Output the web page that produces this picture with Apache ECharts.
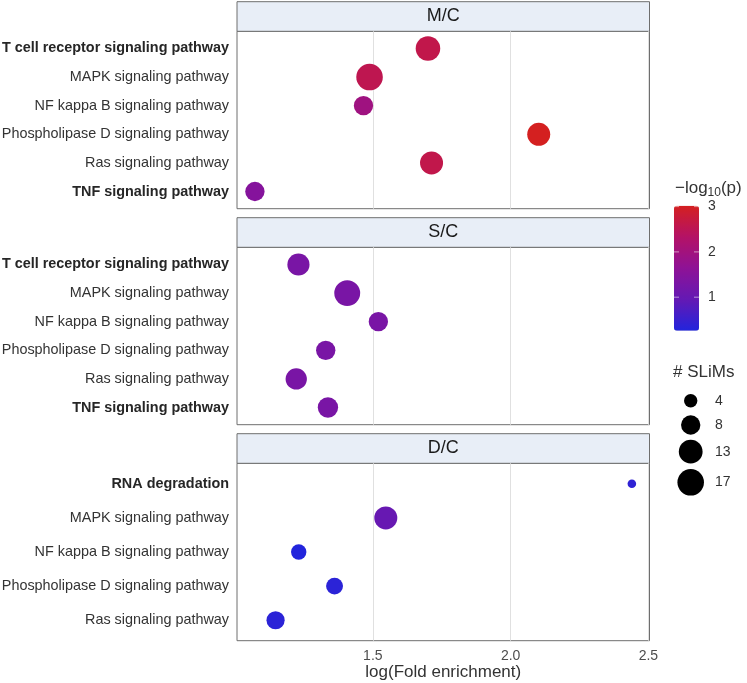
<!DOCTYPE html>
<html>
<head>
<meta charset="utf-8">
<script src="https://cdn.jsdelivr.net/npm/echarts@6/dist/echarts.min.js"></script>
<style>
  html, body { margin: 0; padding: 0; background: #fff; }
  #chart { width: 747px; height: 683px; }
</style>
</head>
<body>
<div id="chart"></div>
<script>
// facet names, top to bottom
const panels = ['M/C', 'S/C', 'D/C']

// pathways in each facet, top to bottom
const termsMC = ['T cell receptor signaling pathway', 'MAPK signaling pathway', 'NF kappa B signaling pathway', 'Phospholipase D signaling pathway', 'Ras signaling pathway', 'TNF signaling pathway']
const termsSC = ['T cell receptor signaling pathway', 'MAPK signaling pathway', 'NF kappa B signaling pathway', 'Phospholipase D signaling pathway', 'Ras signaling pathway', 'TNF signaling pathway']
const termsDC = ['RNA degradation', 'MAPK signaling pathway', 'NF kappa B signaling pathway', 'Phospholipase D signaling pathway', 'Ras signaling pathway']
const boldTerms = ['T cell receptor signaling pathway', 'TNF signaling pathway', 'RNA degradation']

// log(Fold enrichment)
const foldMC = [1.700, 1.488, 1.466, 2.102, 1.713, 1.072]
const foldSC = [1.230, 1.407, 1.520, 1.329, 1.222, 1.337]
const foldDC = [2.440, 1.547, 1.231, 1.361, 1.147]

// -log10(p)
const logpMC = [2.6, 2.55, 1.95, 3.02, 2.6, 1.5]
const logpSC = [1.3, 1.3, 1.3, 1.3, 1.3, 1.3]
const logpDC = [0.4, 1.0, 0.26, 0.35, 0.35]

// # SLiMs
const slimsMC = [14, 17, 8, 12, 12, 8]
const slimsSC = [11, 16, 8, 8, 10, 9]
const slimsDC = [3, 12, 5, 6, 7]

// axis / legend ticks
const xTicks = [1.5, 2.0, 2.5]
const colorTicks = [1, 2, 3]
const sizeBreaks = [4, 8, 13, 17]

const FONT = "'Liberation Sans', Arial, sans-serif"
const TXT = '#333'

// layout
const PLOT_L = 237, PLOT_W = 412.5, PANEL_H = 177.4, STRIP_H = 29.6
const plotTops = [31.3, 247.3, 463.3]
const X_MIN = 1.007, X_MAX = 2.504

// colour scale
const C_MIN = 0.26, C_MAX = 3.02
const CB_L = 674, CB_T = 205.7, CB_W = 25, CB_H = 125

// size scale: area grows with count
const radius = n => 4.3 + 2.4 * Math.sqrt(Math.max(n - 3, 0))

const terms = [termsMC, termsSC, termsDC]
const folds = [foldMC, foldSC, foldDC]
const logps = [logpMC, logpSC, logpDC]
const slims = [slimsMC, slimsSC, slimsDC]

const chart = echarts.init(document.getElementById('chart'))

const grids = panels.map((p, i) => ({
  left: PLOT_L, top: plotTops[i], width: PLOT_W, height: PANEL_H,
  show: true, borderColor: '#6e6e6e', borderWidth: 1, backgroundColor: '#fff',
  containLabel: false, outerBoundsMode: 'none'
}))

const xAxes = panels.map((p, i) => ({
  gridIndex: i, type: 'value', min: X_MIN, max: X_MAX,
  axisLine: { show: false },
  axisTick: { show: false, customValues: xTicks },
  splitLine: { show: true, lineStyle: { color: '#e0e0e0', width: 1 } },
  axisLabel: {
    show: i === panels.length - 1, customValues: xTicks,
    formatter: v => v.toFixed(1), color: '#4d4d4d', fontSize: 14, fontFamily: FONT, margin: 8
  },
  name: i === panels.length - 1 ? 'log(Fold enrichment)' : '',
  nameLocation: 'middle', nameGap: 23,
  nameTextStyle: { color: TXT, fontSize: 17, fontFamily: FONT }
}))

const yAxes = panels.map((p, i) => {
  const t = terms[i]
  return {
    gridIndex: i, type: 'value', inverse: true, min: -0.6, max: t.length - 0.4,
    axisLine: { show: false }, axisTick: { show: false }, splitLine: { show: false },
    axisLabel: {
      customValues: t.map((_, k) => k),
      formatter: v => boldTerms.includes(t[v]) ? '{b|' + t[v] + '}' : t[v],
      color: TXT, fontSize: 14.4, fontFamily: FONT, margin: 8,
      rich: { b: { fontWeight: 'bold', color: '#262626', fontSize: 14.4, fontFamily: FONT } }
    }
  }
})

const series = panels.map((p, i) => ({
  type: 'scatter', xAxisIndex: i, yAxisIndex: i,
  data: terms[i].map((t, k) => [folds[i][k], k, logps[i][k], slims[i][k]]),
  symbolSize: v => 2 * radius(v[3]),
  itemStyle: { opacity: 1 },
  emphasis: { disabled: true }
}))

// facet strips, colour bar ticks and size legend
const graphics = []
panels.forEach((p, i) => {
  graphics.push({
    type: 'rect', silent: true,
    shape: { x: PLOT_L, y: plotTops[i] - STRIP_H, width: PLOT_W, height: STRIP_H },
    style: { fill: '#e8eef7', stroke: '#6e6e6e', lineWidth: 1 }
  })
  graphics.push({
    type: 'text', silent: true,
    x: PLOT_L + PLOT_W / 2, y: plotTops[i] - STRIP_H / 2,
    style: { text: p, fill: '#1a1a1a', font: '18px ' + FONT, textAlign: 'center', textVerticalAlign: 'middle' }
  })
})

const cbY = v => CB_T + (C_MAX - v) / (C_MAX - C_MIN) * CB_H
graphics.push({
  type: 'text', silent: true, x: 675, y: 188,
  style: {
    text: '−log{s|10}(p)', fill: TXT, font: '17px ' + FONT, textVerticalAlign: 'middle',
    rich: { s: { fontSize: 12, fontFamily: FONT, fill: TXT, padding: [9, 0, 0, 0] } }
  }
})
colorTicks.forEach(v => {
  const y = cbY(v)
  graphics.push({ type: 'line', silent: true, z: 100, shape: { x1: CB_L, y1: y, x2: CB_L + 5, y2: y }, style: { stroke: 'rgba(255,255,255,0.55)', lineWidth: 1 } })
  graphics.push({ type: 'line', silent: true, z: 100, shape: { x1: CB_L + CB_W - 5, y1: y, x2: CB_L + CB_W, y2: y }, style: { stroke: 'rgba(255,255,255,0.55)', lineWidth: 1 } })
  graphics.push({ type: 'text', silent: true, x: CB_L + CB_W + 9, y: y, style: { text: String(v), fill: TXT, font: '14px ' + FONT, textVerticalAlign: 'middle' } })
})

graphics.push({
  type: 'text', silent: true, x: 673, y: 372,
  style: { text: '# SLiMs', fill: TXT, font: '17px ' + FONT, textVerticalAlign: 'middle' }
})
const legendY = [400.7, 425, 451.7, 482.3]
sizeBreaks.forEach((n, k) => {
  graphics.push({ type: 'circle', silent: true, shape: { cx: 690.7, cy: legendY[k], r: radius(n) }, style: { fill: '#000' } })
  graphics.push({ type: 'text', silent: true, x: 715, y: legendY[k], style: { text: String(n), fill: TXT, font: '14px ' + FONT, textVerticalAlign: 'middle' } })
})

const option = {
  animation: false,
  backgroundColor: '#fff',
  grid: grids,
  xAxis: xAxes,
  yAxis: yAxes,
  visualMap: {
    type: 'continuous', min: C_MIN, max: C_MAX, dimension: 2,
    seriesIndex: [0, 1, 2], calculable: false, hoverLink: false,
    left: CB_L, top: CB_T, itemWidth: CB_W, itemHeight: CB_H, padding: 0,
    inRange: { color: ['#2224dc', '#6419b4', '#8e1296', '#b41266', '#d42020'] }
  },
  graphic: graphics,
  series: series
}

chart.setOption(option)
</script>
</body>
</html>
